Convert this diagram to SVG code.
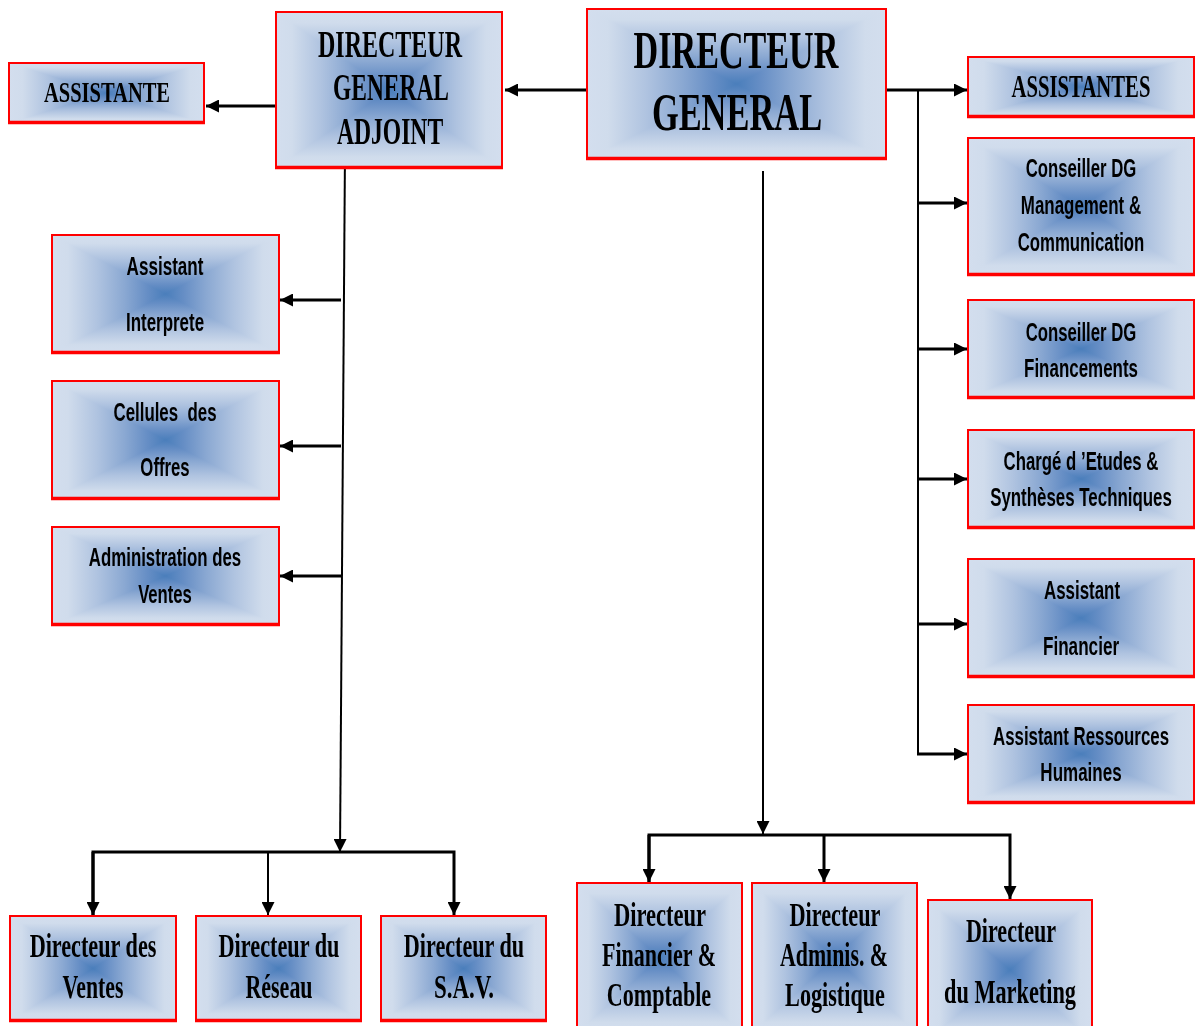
<svg xmlns="http://www.w3.org/2000/svg" width="1195" height="1026" viewBox="0 0 1195 1026">
<style>
.n{isolation:isolate}
.gh{fill:url(#gh)}
.gv{fill:url(#gv);mix-blend-mode:lighten}
.bd{fill:none;stroke:#ff0000;stroke-width:2}
.bb{stroke:#ff0000;stroke-width:3.5}
.t{font-family:"Liberation Serif","Times New Roman",serif;font-weight:bold;text-anchor:middle;fill:#000}
.s{font-family:"Liberation Sans",Arial,sans-serif;font-weight:bold;text-anchor:middle;fill:#000;font-size:26px}
.c{stroke:#000;stroke-width:3;fill:none}
.v{stroke:#000;stroke-width:2;fill:none}
</style>
<defs>
<linearGradient id="gh" x1="0" y1="0" x2="1" y2="0">
<stop offset="0" stop-color="#D3DEEE"/>
<stop offset="0.07" stop-color="#D0DCEC"/>
<stop offset="0.2" stop-color="#AFC3E0"/>
<stop offset="0.32" stop-color="#8AA8D2"/>
<stop offset="0.42" stop-color="#668EC5"/>
<stop offset="0.5" stop-color="#4A7EBB"/>
<stop offset="0.58" stop-color="#668EC5"/>
<stop offset="0.68" stop-color="#8AA8D2"/>
<stop offset="0.8" stop-color="#AFC3E0"/>
<stop offset="0.93" stop-color="#D0DCEC"/>
<stop offset="1" stop-color="#D3DEEE"/>
</linearGradient>
<linearGradient id="gv" href="#gh" x1="0" y1="0" x2="0" y2="1"/>
<marker id="a" viewBox="0 0 10 10" refX="10" refY="5" markerWidth="14" markerHeight="13" markerUnits="userSpaceOnUse" orient="auto">
<path d="M0,0 L10,5 L0,10 Z" fill="#000"/>
</marker>
</defs>
<rect width="1195" height="1026" fill="#fff"/>

<g id="connectors">
<line class="c" x1="586" y1="90" x2="505" y2="90" marker-end="url(#a)"/>
<line class="c" x1="278" y1="106" x2="206" y2="106" marker-end="url(#a)"/>
<line class="c" x1="886" y1="90" x2="967" y2="90" marker-end="url(#a)"/>
<line class="v" x1="918" y1="90" x2="918" y2="755"/>
<line class="c" x1="918" y1="203" x2="967" y2="203" marker-end="url(#a)"/>
<line class="c" x1="918" y1="349" x2="967" y2="349" marker-end="url(#a)"/>
<line class="c" x1="918" y1="479" x2="967" y2="479" marker-end="url(#a)"/>
<line class="c" x1="918" y1="624" x2="967" y2="624" marker-end="url(#a)"/>
<line class="c" x1="917" y1="754" x2="967" y2="754" marker-end="url(#a)"/>
<line class="v" x1="345" y1="150" x2="340" y2="852" marker-end="url(#a)"/>
<line class="c" x1="341" y1="300" x2="280" y2="300" marker-end="url(#a)"/>
<line class="c" x1="341" y1="446" x2="280" y2="446" marker-end="url(#a)"/>
<line class="c" x1="341" y1="576" x2="280" y2="576" marker-end="url(#a)"/>
<polyline class="c" points="93,915 93,852 454,852 454,915" marker-end="url(#a)"/>
<line class="c" x1="93" y1="852" x2="93" y2="915" marker-end="url(#a)"/>
<line class="v" x1="268" y1="852" x2="268" y2="915" marker-end="url(#a)"/>
<line class="v" x1="763" y1="171" x2="763" y2="834" marker-end="url(#a)"/>
<polyline class="c" points="649,882 649,835 1010,835 1010,899" marker-end="url(#a)"/>
<line class="c" x1="649" y1="835" x2="649" y2="882" marker-end="url(#a)"/>
<line class="c" x1="824" y1="835" x2="824" y2="882" marker-end="url(#a)"/>
</g>

<g id="n-assistante" class="n">
<rect class="gh" x="9" y="63" width="195" height="60"/><rect class="gv" x="9" y="63" width="195" height="60"/>
<rect class="bd" x="9" y="63" width="195" height="60"/><line class="bb" x1="8" y1="122.5" x2="205" y2="122.5"/>
<text class="t" transform="translate(107,102) scale(0.64,1)" font-size="30" textLength="197" lengthAdjust="spacingAndGlyphs">ASSISTANTE</text>
</g>
<g id="n-dga" class="n">
<rect class="gh" x="276" y="12" width="226" height="156"/><rect class="gv" x="276" y="12" width="226" height="156"/>
<rect class="bd" x="276" y="12" width="226" height="156"/><line class="bb" x1="275" y1="167.5" x2="503" y2="167.5"/>
<text class="t" transform="translate(390,57) scale(0.64,1)" font-size="37" textLength="225" lengthAdjust="spacingAndGlyphs">DIRECTEUR</text>
<text class="t" transform="translate(391,100) scale(0.64,1)" font-size="37" textLength="181" lengthAdjust="spacingAndGlyphs">GENERAL</text>
<text class="t" transform="translate(390,144) scale(0.64,1)" font-size="37" textLength="166" lengthAdjust="spacingAndGlyphs">ADJOINT</text>
</g>
<g id="n-dg" class="n">
<rect class="gh" x="587" y="9" width="299" height="150"/><rect class="gv" x="587" y="9" width="299" height="150"/>
<rect class="bd" x="587" y="9" width="299" height="150"/><line class="bb" x1="586" y1="158.5" x2="887" y2="158.5"/>
<text class="t" transform="translate(736,68) scale(0.64,1)" font-size="53" textLength="320" lengthAdjust="spacingAndGlyphs">DIRECTEUR</text>
<text class="t" transform="translate(737,130) scale(0.64,1)" font-size="53" textLength="266" lengthAdjust="spacingAndGlyphs">GENERAL</text>
</g>
<g id="n-assistantes" class="n">
<rect class="gh" x="968" y="57" width="226" height="60"/><rect class="gv" x="968" y="57" width="226" height="60"/>
<rect class="bd" x="968" y="57" width="226" height="60"/><line class="bb" x1="967" y1="116.5" x2="1195" y2="116.5"/>
<text class="t" transform="translate(1081,97) scale(0.64,1)" font-size="31" textLength="217" lengthAdjust="spacingAndGlyphs">ASSISTANTES</text>
</g>
<g id="n-conseiller-mgmt" class="n">
<rect class="gh" x="968" y="138" width="226" height="137"/><rect class="gv" x="968" y="138" width="226" height="137"/>
<rect class="bd" x="968" y="138" width="226" height="137"/><line class="bb" x1="967" y1="274.5" x2="1195" y2="274.5"/>
<text class="s" transform="translate(1081,177) scale(0.64,1)" textLength="173" lengthAdjust="spacingAndGlyphs">Conseiller DG</text>
<text class="s" transform="translate(1081,214) scale(0.64,1)" textLength="188" lengthAdjust="spacingAndGlyphs">Management &amp;</text>
<text class="s" transform="translate(1081,251) scale(0.64,1)" textLength="198" lengthAdjust="spacingAndGlyphs">Communication</text>
</g>
<g id="n-conseiller-fin" class="n">
<rect class="gh" x="968" y="300" width="226" height="98"/><rect class="gv" x="968" y="300" width="226" height="98"/>
<rect class="bd" x="968" y="300" width="226" height="98"/><line class="bb" x1="967" y1="397.5" x2="1195" y2="397.5"/>
<text class="s" transform="translate(1081,341) scale(0.64,1)" textLength="173" lengthAdjust="spacingAndGlyphs">Conseiller DG</text>
<text class="s" transform="translate(1081,377) scale(0.64,1)" textLength="178" lengthAdjust="spacingAndGlyphs">Financements</text>
</g>
<g id="n-charge" class="n">
<rect class="gh" x="968" y="430" width="226" height="98"/><rect class="gv" x="968" y="430" width="226" height="98"/>
<rect class="bd" x="968" y="430" width="226" height="98"/><line class="bb" x1="967" y1="527.5" x2="1195" y2="527.5"/>
<text class="s" transform="translate(1081,470) scale(0.64,1)" textLength="242" lengthAdjust="spacingAndGlyphs">Chargé d ’Etudes &amp;</text>
<text class="s" transform="translate(1081,506) scale(0.64,1)" textLength="284" lengthAdjust="spacingAndGlyphs">Synthèses Techniques</text>
</g>
<g id="n-assistant-fin" class="n">
<rect class="gh" x="968" y="559" width="226" height="118"/><rect class="gv" x="968" y="559" width="226" height="118"/>
<rect class="bd" x="968" y="559" width="226" height="118"/><line class="bb" x1="967" y1="676.5" x2="1195" y2="676.5"/>
<text class="s" transform="translate(1082,599) scale(0.64,1)" textLength="119" lengthAdjust="spacingAndGlyphs">Assistant</text>
<text class="s" transform="translate(1081,655) scale(0.64,1)" textLength="119" lengthAdjust="spacingAndGlyphs">Financier</text>
</g>
<g id="n-assistant-rh" class="n">
<rect class="gh" x="968" y="705" width="226" height="98"/><rect class="gv" x="968" y="705" width="226" height="98"/>
<rect class="bd" x="968" y="705" width="226" height="98"/><line class="bb" x1="967" y1="802.5" x2="1195" y2="802.5"/>
<text class="s" transform="translate(1081,745) scale(0.64,1)" textLength="275" lengthAdjust="spacingAndGlyphs">Assistant Ressources</text>
<text class="s" transform="translate(1081,781) scale(0.64,1)" textLength="127" lengthAdjust="spacingAndGlyphs">Humaines</text>
</g>
<g id="n-interprete" class="n">
<rect class="gh" x="52" y="235" width="227" height="118"/><rect class="gv" x="52" y="235" width="227" height="118"/>
<rect class="bd" x="52" y="235" width="227" height="118"/><line class="bb" x1="51" y1="352.5" x2="280" y2="352.5"/>
<text class="s" transform="translate(165,275) scale(0.64,1)" textLength="120" lengthAdjust="spacingAndGlyphs">Assistant</text>
<text class="s" transform="translate(165,331) scale(0.64,1)" textLength="122" lengthAdjust="spacingAndGlyphs">Interprete</text>
</g>
<g id="n-cellules" class="n">
<rect class="gh" x="52" y="381" width="227" height="118"/><rect class="gv" x="52" y="381" width="227" height="118"/>
<rect class="bd" x="52" y="381" width="227" height="118"/><line class="bb" x1="51" y1="498.5" x2="280" y2="498.5"/>
<text class="s" transform="translate(165,421) scale(0.64,1)" textLength="161" lengthAdjust="spacingAndGlyphs" xml:space="preserve">Cellules  des</text>
<text class="s" transform="translate(165,476) scale(0.64,1)" textLength="77" lengthAdjust="spacingAndGlyphs">Offres</text>
</g>
<g id="n-admin-ventes" class="n">
<rect class="gh" x="52" y="527" width="227" height="98"/><rect class="gv" x="52" y="527" width="227" height="98"/>
<rect class="bd" x="52" y="527" width="227" height="98"/><line class="bb" x1="51" y1="624.5" x2="280" y2="624.5"/>
<text class="s" transform="translate(165,566) scale(0.64,1)" textLength="238" lengthAdjust="spacingAndGlyphs">Administration des</text>
<text class="s" transform="translate(165,603) scale(0.64,1)" textLength="84" lengthAdjust="spacingAndGlyphs">Ventes</text>
</g>
<g id="n-dir-ventes" class="n">
<rect class="gh" x="10" y="916" width="166" height="105"/><rect class="gv" x="10" y="916" width="166" height="105"/>
<rect class="bd" x="10" y="916" width="166" height="105"/><line class="bb" x1="9" y1="1020.5" x2="177" y2="1020.5"/>
<text class="t" transform="translate(93,957) scale(0.64,1)" font-size="33" textLength="198" lengthAdjust="spacingAndGlyphs">Directeur des</text>
<text class="t" transform="translate(93,998) scale(0.64,1)" font-size="33" textLength="95" lengthAdjust="spacingAndGlyphs">Ventes</text>
</g>
<g id="n-dir-reseau" class="n">
<rect class="gh" x="196" y="916" width="165" height="105"/><rect class="gv" x="196" y="916" width="165" height="105"/>
<rect class="bd" x="196" y="916" width="165" height="105"/><line class="bb" x1="195" y1="1020.5" x2="362" y2="1020.5"/>
<text class="t" transform="translate(279,957) scale(0.64,1)" font-size="33" textLength="189" lengthAdjust="spacingAndGlyphs">Directeur du</text>
<text class="t" transform="translate(279,998) scale(0.64,1)" font-size="33" textLength="105" lengthAdjust="spacingAndGlyphs">Réseau</text>
</g>
<g id="n-dir-sav" class="n">
<rect class="gh" x="381" y="916" width="165" height="105"/><rect class="gv" x="381" y="916" width="165" height="105"/>
<rect class="bd" x="381" y="916" width="165" height="105"/><line class="bb" x1="380" y1="1020.5" x2="547" y2="1020.5"/>
<text class="t" transform="translate(464,957) scale(0.64,1)" font-size="33" textLength="188" lengthAdjust="spacingAndGlyphs">Directeur du</text>
<text class="t" transform="translate(464,998) scale(0.64,1)" font-size="33" textLength="94" lengthAdjust="spacingAndGlyphs">S.A.V.</text>
</g>
<g id="n-dir-fin" class="n">
<rect class="gh" x="577" y="883" width="165" height="150"/><rect class="gv" x="577" y="883" width="165" height="150"/>
<rect class="bd" x="577" y="883" width="165" height="150"/>
<text class="t" transform="translate(660,926) scale(0.64,1)" font-size="33" textLength="144" lengthAdjust="spacingAndGlyphs">Directeur</text>
<text class="t" transform="translate(659,966) scale(0.64,1)" font-size="33" textLength="178" lengthAdjust="spacingAndGlyphs">Financier &amp;</text>
<text class="t" transform="translate(659,1006) scale(0.64,1)" font-size="33" textLength="163" lengthAdjust="spacingAndGlyphs">Comptable</text>
</g>
<g id="n-dir-admin" class="n">
<rect class="gh" x="752" y="883" width="165" height="150"/><rect class="gv" x="752" y="883" width="165" height="150"/>
<rect class="bd" x="752" y="883" width="165" height="150"/>
<text class="t" transform="translate(835,926) scale(0.64,1)" font-size="33" textLength="142" lengthAdjust="spacingAndGlyphs">Directeur</text>
<text class="t" transform="translate(834,966) scale(0.64,1)" font-size="33" textLength="169" lengthAdjust="spacingAndGlyphs">Adminis. &amp;</text>
<text class="t" transform="translate(835,1006) scale(0.64,1)" font-size="33" textLength="156" lengthAdjust="spacingAndGlyphs">Logistique</text>
</g>
<g id="n-dir-marketing" class="n">
<rect class="gh" x="928" y="900" width="164" height="140"/><rect class="gv" x="928" y="900" width="164" height="140"/>
<rect class="bd" x="928" y="900" width="164" height="140"/>
<text class="t" transform="translate(1011,942) scale(0.64,1)" font-size="33" textLength="141" lengthAdjust="spacingAndGlyphs">Directeur</text>
<text class="t" transform="translate(1010,1003) scale(0.64,1)" font-size="33" textLength="206" lengthAdjust="spacingAndGlyphs">du Marketing</text>
</g>
</svg>
